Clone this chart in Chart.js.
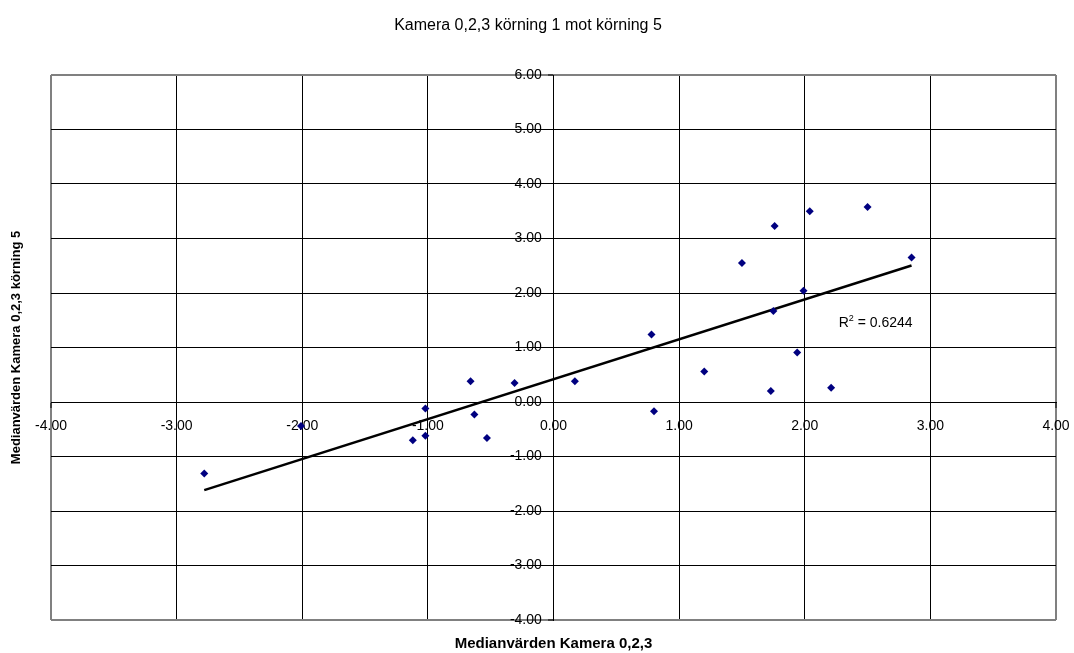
<!DOCTYPE html>
<html>
<head>
<meta charset="utf-8">
<script src="https://cdn.jsdelivr.net/npm/chart.js@4/dist/chart.umd.min.js"></script>
<style>
  html, body { margin: 0; padding: 0; background: #fff; }
  #wrap { width: 1074px; height: 653px; }
</style>
</head>
<body>
<div id="wrap"><canvas id="chart" width="1074" height="653"></canvas></div>
<script>
// Texts
const chartTitle = 'Kamera 0,2,3 körning 1 mot körning 5';
const xAxisTitle = 'Medianvärden Kamera 0,2,3';
const yAxisTitle = 'Medianvärden Kamera 0,2,3 körning 5';

// Median values per camera, run 1 (x) and run 5 (y)
const run1Values = [-2.78, -2.01, -1.12, -1.02, -1.02, -0.66, -0.63, -0.53, -0.31, 0.17,
                    0.78, 0.80, 1.20, 1.50, 1.76, 1.75, 1.73, 1.94, 1.99, 2.04, 2.21, 2.50, 2.85];
const run5Values = [-1.31, -0.44, -0.70, -0.12, -0.62, 0.38, -0.23, -0.66, 0.35, 0.38,
                    1.24, -0.17, 0.56, 2.55, 3.23, 1.67, 0.20, 0.91, 2.04, 3.50, 0.26, 3.58, 2.65];

// Axis ticks
const xTicks = [-4, -3, -2, -1, 0, 1, 2, 3, 4];
const yTicks = [-4, -3, -2, -1, 0, 1, 2, 3, 4, 5, 6];

// Coefficient of determination shown next to the trend line
const rSquared = 0.6244;
const rSquaredAt = [2.27, 1.38];

const FONT = "'Liberation Sans', Arial, sans-serif";

const points = run1Values.map((x, i) => ({ x, y: run5Values[i] }));

// Least-squares linear trend over the points
function linearFit(xs, ys) {
  const n = xs.length;
  const mx = xs.reduce((a, b) => a + b, 0) / n;
  const my = ys.reduce((a, b) => a + b, 0) / n;
  let sxy = 0, sxx = 0;
  for (let i = 0; i < n; i++) {
    sxy += (xs[i] - mx) * (ys[i] - my);
    sxx += (xs[i] - mx) * (xs[i] - mx);
  }
  const slope = sxy / sxx;
  return { slope, intercept: my - slope * mx };
}
const fit = linearFit(run1Values, run5Values);
const xMin = Math.min(...run1Values);
const xMax = Math.max(...run1Values);
const trend = [xMin, xMax].map(x => ({ x, y: fit.intercept + fit.slope * x }));

// Outer frame lines are grey and heavier than the inner grid
const frameColor = (edges) => (ctx) => edges.includes(ctx.tick && ctx.tick.value) ? '#808080' : '#000000';
const frameWidth = (edges) => (ctx) => edges.includes(ctx.tick && ctx.tick.value) ? 2 : 1;

// Draws "R² = 0.6244" at a data position
const rSquaredLabel = {
  id: 'rSquaredLabel',
  afterDatasetsDraw(chart) {
    const { ctx, scales: { x, y } } = chart;
    const px = x.getPixelForValue(rSquaredAt[0]);
    const py = y.getPixelForValue(rSquaredAt[1]);
    ctx.save();
    ctx.fillStyle = '#000';
    ctx.textBaseline = 'alphabetic';
    ctx.textAlign = 'left';
    ctx.font = '14px ' + FONT;
    ctx.fillText('R', px, py);
    let w = ctx.measureText('R').width;
    ctx.font = '9px ' + FONT;
    ctx.fillText('2', px + w, py - 6);
    w += ctx.measureText('2').width;
    ctx.font = '14px ' + FONT;
    ctx.fillText(' = ' + rSquared.toFixed(4), px + w, py);
    ctx.restore();
  }
};

Chart.defaults.color = '#000';
Chart.defaults.font.family = FONT;

new Chart(document.getElementById('chart'), {
  type: 'scatter',
  data: {
    datasets: [
      {
        label: 'Median',
        data: points,
        pointStyle: 'rectRot',
        pointRadius: 4,
        pointBackgroundColor: '#000080',
        pointBorderColor: '#000080',
        pointBorderWidth: 0,
        order: 0
      },
      {
        type: 'line',
        label: 'Linjär trend',
        data: trend,
        borderColor: '#000',
        borderWidth: 2.5,
        pointRadius: 0,
        fill: false,
        order: 1
      }
    ]
  },
  options: {
    responsive: false,
    animation: false,
    devicePixelRatio: 1,
    layout: { padding: { left: 0, right: 18, top: 0, bottom: 0 } },
    plugins: {
      legend: { display: false },
      tooltip: { enabled: false },
      title: {
        display: true,
        text: chartTitle,
        color: '#000',
        font: { family: FONT, size: 16, weight: 'normal' },
        padding: { top: 16.4, bottom: 39.4 }
      }
    },
    scales: {
      x: {
        type: 'linear',
        position: { y: 0 },
        min: -4,
        max: 4,
        afterBuildTicks: (s) => { s.ticks = xTicks.map(v => ({ value: v })); },
        // the end labels may overhang the plot frame; the outer margin is set by layout.padding
        afterFit: (s) => { s.paddingLeft = 0; s.paddingRight = 0; },
        ticks: {
          callback: (v) => Number(v).toFixed(2),
          font: { family: FONT, size: 14 },
          color: '#000',
          padding: 11,
          maxRotation: 0,
          autoSkip: false
        },
        grid: { color: frameColor([-4, 4]), lineWidth: frameWidth([-4, 4]), tickLength: 5, tickColor: '#000', tickWidth: 1 },
        border: { color: '#000', width: 1 }
      },
      y: {
        type: 'linear',
        position: { x: 0 },
        min: -4,
        max: 6,
        afterBuildTicks: (s) => { s.ticks = yTicks.map(v => ({ value: v })); },
        ticks: {
          // trailing gap keeps the labels clear of the tick marks on the zero line
          callback: (v) => Number(v).toFixed(2) + '   ',
          font: { family: FONT, size: 14 },
          color: '#000',
          autoSkip: false
        },
        grid: { color: frameColor([-4, 6]), lineWidth: frameWidth([-4, 6]), tickLength: 5, tickColor: '#000', tickWidth: 1 },
        border: { color: '#000', width: 1 }
      },
      xTitle: {
        type: 'linear',
        axis: 'x',
        position: 'bottom',
        min: 0,
        max: 1,
        ticks: { display: false },
        grid: { display: false, drawTicks: false },
        border: { display: false },
        title: { display: true, text: xAxisTitle, color: '#000', font: { family: FONT, size: 15, weight: 'bold' }, padding: { top: 0, bottom: 0 } },
        afterFit: (s) => { s.height = 33; }
      },
      yTitle: {
        type: 'linear',
        axis: 'y',
        position: 'left',
        min: 0,
        max: 1,
        ticks: { display: false },
        grid: { display: false, drawTicks: false },
        border: { display: false },
        title: { display: true, text: yAxisTitle, color: '#000', font: { family: FONT, size: 13, weight: 'bold' }, padding: { top: 9, bottom: 0 } },
        afterFit: (s) => { s.width = 51; }
      }
    }
  },
  plugins: [rSquaredLabel]
});
</script>
</body>
</html>
